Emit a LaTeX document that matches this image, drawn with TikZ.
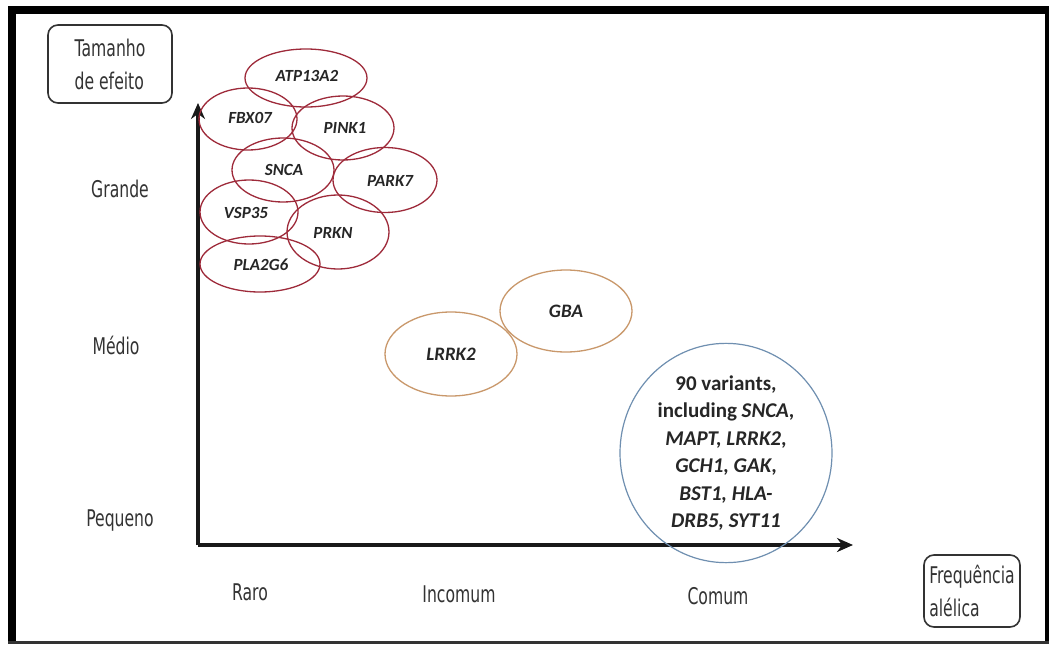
\documentclass[tikz,border=0pt]{standalone}
\usepackage{fontspec}
\usepackage{tikz}
\usetikzlibrary{shapes.geometric,arrows.meta}
\setmainfont{Carlito}
\newfontfamily\axfont[FakeStretch=0.68]{DejaVu Sans}
\definecolor{genered}{HTML}{9E2A3A}
\definecolor{geneorange}{HTML}{C9986B}
\definecolor{geneblue}{HTML}{6F8FB0}
\definecolor{axgray}{HTML}{333333}

\begin{document}
\begin{tikzpicture}[x=1pt,y=-1pt,
  gene/.style={ellipse,draw=genered,line width=1.3pt,inner sep=0pt,
    font=\fontsize{17}{20}\selectfont\bfseries\itshape,text=black!85},
  midgene/.style={gene,draw=geneorange,font=\fontsize{19}{22}\selectfont\bfseries\itshape},
  level/.style={font=\axfont\fontsize{23}{26}\selectfont,text=axgray},
  tag/.style={draw=axgray,line width=1.6pt,rounded corners=10pt,align=left,
    font=\axfont\fontsize{23}{33}\selectfont,text=axgray,inner sep=0pt},
  axis/.style={line width=4.5pt,black!90,-{Stealth[length=16pt,width=14pt]}}]
  \useasboundingbox (0,0) rectangle (1050,645);
  \fill[white] (0,0) rectangle (1050,645);
  % frame
  \fill[black] (8,6) rectangle (1049,14);
  \fill[black] (8,6) rectangle (16,644);
  \fill[black] (1045,6) rectangle (1049,644);
  \fill[black!80] (8,641) rectangle (1049,644);

  \node[tag,minimum width=124pt,minimum height=78pt] (size) at (110,64) {Tamanho\\de efeito};
  \node[tag,minimum width=96pt,minimum height=72pt] (freq) at (972,591) {Frequência\\alélica};

  \coordinate (o) at (198,545);
  \coordinate (ytop) at (198,103);
  \coordinate (xend) at (853,545);
  \draw[axis] (o) -- (ytop);
  \draw[axis] (o) -- (xend);

  \node[level] (big) at (120,189) {Grande};
  \node[level] (mid) at (116,345) {Médio};
  \node[level] (small) at (120,521) {Pequeno};
  \node[level] (rare) at (250,592) {Raro};
  \node[level] (unc) at (459,594) {Incomum};
  \node[level] (com) at (718,596) {Comum};

  \node[gene,minimum width=122pt,minimum height=58pt] (atp) at (306,78) {};
  \node[gene,minimum width=98pt,minimum height=62pt] (fbx) at (248,119) {};
  \node[gene,minimum width=102pt,minimum height=64pt] (pink) at (343,128) {};
  \node[gene,minimum width=102pt,minimum height=64pt] (snca) at (283,170) {};
  \node[gene,minimum width=104pt,minimum height=65pt] (park) at (385,180) {};
  \node[gene,minimum width=98pt,minimum height=64pt] (vsp) at (249,212) {};
  \node[gene,minimum width=102pt,minimum height=74pt] (prkn) at (338,232) {};
  \node[gene,minimum width=120pt,minimum height=56pt] (pla) at (260,264) {};
  \node[gene,draw=none] at (307,76) {ATP13A2};
  \node[gene,draw=none] at (250,118) {FBX07};
  \node[gene,draw=none] at (345,128) {PINK1};
  \node[gene,draw=none] at (284,170) {SNCA};
  \node[gene,draw=none] at (390,181) {PARK7};
  \node[gene,draw=none] at (246,213) {VSP35};
  \node[gene,draw=none] at (333,233) {PRKN};
  \node[gene,draw=none] at (261,265) {PLA2G6};

  \node[midgene,minimum width=132pt,minimum height=82pt] (gba) at (566,311) {GBA};
  \node[midgene,minimum width=132pt,minimum height=84pt] (lrrk) at (451,354) {LRRK2};

  \node[ellipse,draw=geneblue,line width=1.2pt,minimum width=212pt,minimum height=178pt,
    inner sep=0pt,align=center,text=black!85,
    font=\fontsize{21}{27.5}\selectfont\bfseries] (common) at (726,453)
    {90 variants,\\including \textit{SNCA},\\\textit{MAPT, LRRK2},\\\textit{GCH1, GAK},\\\textit{BST1, HLA-}\\\textit{DRB5, SYT11}};
\end{tikzpicture}
\end{document}
